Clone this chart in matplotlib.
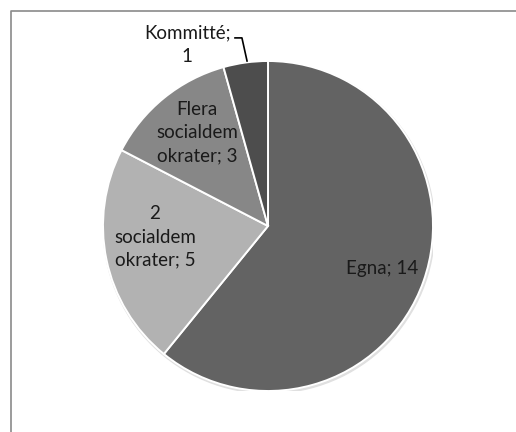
import numpy as np
import matplotlib.pyplot as plt
from matplotlib.patches import Circle
from matplotlib.lines import Line2D

labels = ['Egna', '2\nsocialdem\nokrater', 'Flera\nsocialdem\nokrater', 'Kommitté']
values = [14, 5, 3, 1]
colors = ['#636363', '#b2b2b2', '#878787', '#4d4d4d']

plt.rcParams['font.family'] = ['Lato', 'DejaVu Sans']

fig = plt.figure(figsize=(5.16, 4.32), dpi=100)
# outer chart frame (only left and top edges are visible)
x0, y0 = 10.5 / 516, 1 - 10.5 / 432
fig.add_artist(Line2D([x0, x0, 1.05], [-0.05, y0, y0], transform=fig.transFigure,
                      color='#8a8a8a', lw=1.2))

ax = fig.add_axes([(268 - 165) / 516, (432 - 226 - 165) / 432, 330 / 516, 330 / 432])
# soft shadow
ax.add_patch(Circle((0.006, -0.01), 1.004, color='#e0e0e0', zorder=0))
wedges, _ = ax.pie(values, colors=colors, startangle=90, counterclock=False,
                   radius=1.0, wedgeprops=dict(edgecolor='white', linewidth=1.4))
ax.set_xlim(-1, 1)
ax.set_ylim(-1, 1)
ax.set_aspect('auto')
ax.axis('off')

label_pos = [(0.69, -0.255), (-0.685, -0.067), (-0.43, 0.564)]
for (x, y), lab, v in zip(label_pos, labels[:3], values[:3]):
    ax.text(x, y, f'{lab}; {v}', ha='center', va='center', fontsize=13.5,
            color='#1a1a1a', linespacing=1.45)

ax.text(-0.49, 1.097, f'{labels[3]};\n{values[3]}', ha='center', va='center',
        fontsize=13.5, color='#1a1a1a', linespacing=1.45, clip_on=False)
ax.plot([-0.2, -0.158, -0.127], [1.14, 1.14, 1.0], color='black', lw=1.2,
        clip_on=False)

fig.savefig('out.png', dpi=100)
